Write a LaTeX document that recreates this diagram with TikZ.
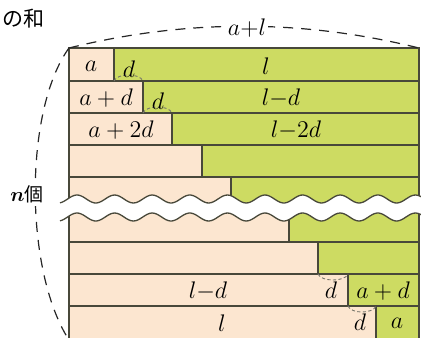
\documentclass[tikz,border=0pt]{standalone}
\usepackage{amsmath,amssymb}
\usepackage{fontspec}
\newfontfamily\cjk{Noto Sans CJK JP}
\definecolor{peach}{RGB}{252,230,208}
\definecolor{leaf}{RGB}{205,219,98}
\definecolor{edge}{RGB}{72,72,58}

\begin{document}
\begin{tikzpicture}[x=0.5pt, y=-0.5pt,
    rowline/.style={draw=edge, line width=0.65pt},
    lbl/.style={font=\fontsize{13}{15}\selectfont, inner sep=1pt},
    ddash/.style={draw=edge!75, dash pattern=on 1.6pt off 1.2pt, line width=0.45pt},
    guide/.style={draw=black!85, dash pattern=on 5pt off 4pt, line width=0.6pt}]
    \useasboundingbox (0,0) rectangle (421,337);
    \clip (0,0) rectangle (421,337);

    \foreach \t/\b/\s in {48/81/114, 81/113/143, 113/145/172, 145/177/202, 177/210/231,
                          205/242/289, 242/274/318, 274/306/348, 306/340/376} {
        \fill[peach] (69,\t) rectangle (\s,\b);
        \fill[leaf] (\s,\t) rectangle (419,\b);
        \draw[rowline] (69,\t) rectangle (419,\b);
        \draw[rowline] (\s,\t) -- (\s,\b);
    }

    \fill[white] plot[domain=60:425, samples=160, smooth] (\x, {199-4*cos(9.574*(\x-77))})
        -- plot[domain=425:60, samples=160, smooth] (\x, {217-4*cos(9.574*(\x-77))}) -- cycle;
    \draw[rowline] plot[domain=60:425, samples=160, smooth] (\x, {199-4*cos(9.574*(\x-77))});
    \draw[rowline] plot[domain=60:425, samples=160, smooth] (\x, {217-4*cos(9.574*(\x-77))});

    \draw[guide] (69,48) .. controls (186,19) and (302,19) .. (419,48);
    \draw[guide] (69,48) .. controls (24,110) and (24,270) .. (69,340);
    \node[lbl, fill=white] (width) at (247,28) {$a{+}l$};
    \node[fill=white, inner sep=1.5pt] (count) at (27,194) {$\boldsymbol{n}$\cjk\fontsize{9.5}{11}\selectfont 個};
    \node[anchor=west, inner sep=0pt] (title) at (2,19) {\cjk\fontsize{10.5}{12}\selectfont の和};

    \draw[ddash] (114,81) .. controls (117,73) and (140,73) .. (143,81);
    \draw[ddash] (143,113) .. controls (146,105) and (169,105) .. (172,113);
    \draw[ddash] (318,274) .. controls (321,282) and (345,282) .. (348,274);
    \draw[ddash] (348,306) .. controls (351,314) and (373,314) .. (376,306);

    \node[lbl] (a1) at (91,66) {$a$};
    \node[lbl] (l1) at (266,66) {$l$};
    \node[lbl] (d1) at (129,69) {$d$};
    \node[lbl] (a2) at (106,98) {$a+d$};
    \node[lbl] (l2) at (281,98) {$l{-}d$};
    \node[lbl] (d2) at (158,101) {$d$};
    \node[lbl] (a3) at (121,130) {$a+2d$};
    \node[lbl] (l3) at (296,130) {$l{-}2d$};
    \node[lbl] (l8) at (208,291) {$l{-}d$};
    \node[lbl] (d8) at (331,290) {$d$};
    \node[lbl] (a8) at (383,291) {$a+d$};
    \node[lbl] (l9) at (222,323) {$l$};
    \node[lbl] (d9) at (360,322) {$d$};
    \node[lbl] (a9) at (397,323) {$a$};
\end{tikzpicture}
\end{document}
